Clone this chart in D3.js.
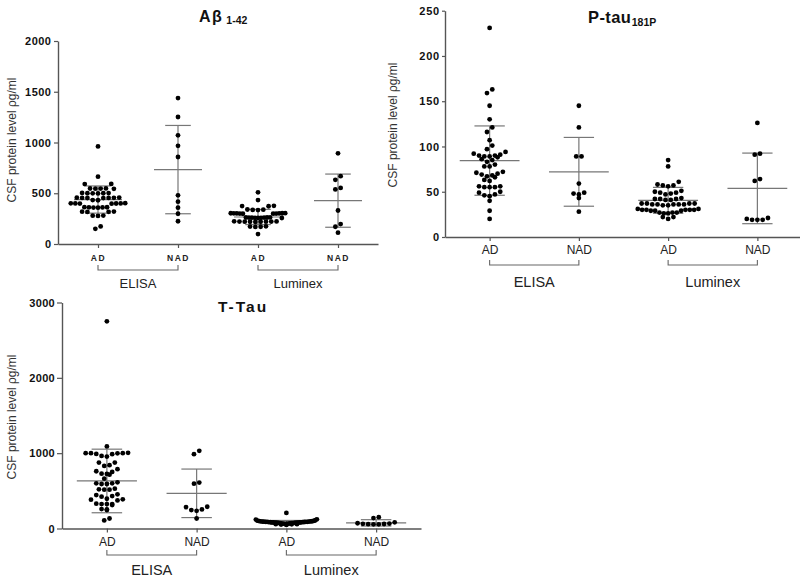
<!DOCTYPE html>
<html><head><meta charset="utf-8">
<script src="https://cdn.jsdelivr.net/npm/d3@7"></script>
<style>body{margin:0;background:#fff}svg{display:block}</style>
</head><body>
<svg id="chart" width="800" height="579"></svg>
<script>
// ---------------- data ----------------
const categories = ["AD", "NAD", "AD", "NAD"];
const groups = ["ELISA", "Luminex"];
const yLabel = "CSF protein level \u03c1g/ml";

// Aβ 1-42
const abetaTicks = [0, 500, 1000, 1500, 2000];
const abetaElisaAD = [961, 663, 592, 590, 548, 545, 546, 544, 547, 502, 500, 498, 501, 499, 503,
  456, 454, 455, 453, 457, 452, 454, 431, 433, 400, 398, 401, 399, 397, 402, 400,
  362, 360, 358, 361, 359, 363, 318, 316, 317, 319, 279, 277, 280, 173, 150];
const abetaElisaNAD = [1438, 1251, 1071, 967, 857, 480, 417, 358, 298, 224];
const abetaLuminexAD = [509, 433, 376, 374, 372, 340, 338, 336, 334,
  300, 303, 301, 299, 302, 304, 298, 300, 301, 303,
  258, 260, 261, 257, 259, 262, 256, 260, 258, 261,
  220, 222, 218, 221, 219, 223, 217, 220, 221, 172, 170, 174, 168, 98];
const abetaLuminexNAD = [893, 668, 632, 552, 538, 330, 196, 170, 112];
const abetaMeans = [438, 733, 266, 427];
const abetaSD = [134, 435, 75, 262];

// P-tau 181P
const ptauTicks = [0, 50, 100, 150, 200, 250];
const ptauElisaAD = [231, 163, 159, 145, 130, 121, 116, 107, 101, 97, 94, 92, 91, 90, 90,
  89, 89, 88, 86, 85, 83, 80, 78, 78, 72, 71, 70, 69, 68, 67, 66, 63, 62, 56, 56,
  55, 55, 55, 50, 49, 47, 46, 45, 40, 29, 20];
const ptauElisaNAD = [145, 121, 89, 89, 59, 49, 48, 47, 43, 28];
const ptauLuminexAD = [85, 78, 61, 58, 57, 57, 56, 51, 50, 49, 49, 48, 47, 43, 42, 42, 42, 41, 41,
  37, 37, 37, 37, 36, 36, 36, 36, 36, 35, 35, 31, 31, 30, 30, 30, 30, 30, 29, 29, 29,
  27, 27, 27, 26, 26, 22, 20, 22];
const ptauLuminexNAD = [126, 92, 91, 64, 62, 21, 19, 19, 19, 20];
const ptauMeans = [84.4, 72, 40.5, 53.7];
const ptauSD = [38.3, 38, 14.3, 39];

// T-Tau
const ttauTicks = [0, 1000, 2000, 3000];
const ttauElisaAD = [2750, 1089, 1005, 1000, 998, 1000, 1000, 990, 987, 964, 955, 875, 875, 840, 831,
  787, 760, 751, 728, 724, 715, 662, 613, 600, 600, 591, 591, 529, 520, 515, 515,
  453, 444, 431, 422, 395, 387, 382, 373, 329, 324, 324, 324, 311, 258, 253, 244, 133, 107];
const ttauElisaNAD = [1031, 987, 609, 595, 289, 284, 253, 244, 235, 133];
const ttauLuminexAD = [207, 122, 118, 110, 104, 100, 98, 96, 95, 94, 92, 92, 90, 89, 88, 88, 87, 86,
  85, 84, 83, 82, 81, 80, 80, 79, 78, 77, 76, 75, 74, 72, 71, 70, 68, 67, 66, 64, 62, 60,
  58, 57, 55, 52, 48];
const ttauLuminexNAD = [150, 138, 82, 70, 62, 58, 55, 56, 60, 66];
const ttauMeans = [631, 467, 82, 75];
const ttauSD = [422, 322, 25, 42];

// ---------------- drawing ----------------
const FONT = "'Liberation Sans', Arial, Helvetica, sans-serif";
const svg = d3.select("#chart");

function swarm(values, y, cx, maxHalf) {
  const dx = 5.3, binH = 4.8;
  const pts = values.map(v => ({ v, y: y(v) })).sort((a, b) => a.y - b.y);
  const bins = [];
  let cur = null;
  pts.forEach(p => {
    if (!cur || p.y - cur.start > binH) { cur = { start: p.y, items: [] }; bins.push(cur); }
    cur.items.push(p);
  });
  bins.forEach(b => {
    const n = b.items.length;
    let step = dx;
    if (n > 1 && (n - 1) * step / 2 > maxHalf) step = 2 * maxHalf / (n - 1);
    const sorted = b.items.slice().sort((a, c) => c.y - a.y);
    const slots = d3.range(n).map(i => (i - (n - 1) / 2) * step)
      .sort((a, c) => Math.abs(a) - Math.abs(c) || a - c);
    sorted.forEach((p, i) => { p.x = cx + slots[i]; });
  });
  return pts;
}

function panel(cfg) {
  const g = svg.append("g");
  const x = d3.scalePoint().domain(d3.range(categories.length)).range(cfg.xRange).padding(0.5);
  const y = d3.scaleLinear().domain([0, d3.max(cfg.ticks)]).range(cfg.yRange);
  const band = x.step();

  // y axis
  const ya = g.append("g").attr("transform", `translate(${cfg.xRange[0]},0)`)
    .call(d3.axisLeft(y).tickValues(cfg.ticks).tickFormat(d3.format("d"))
      .tickSize(cfg.yTick).tickPadding(cfg.yPad).tickSizeOuter(0));
  ya.select(".domain").attr("stroke", "#555").attr("stroke-width", 1.4);
  ya.selectAll(".tick line").attr("stroke", "#555").attr("stroke-width", 1.2);
  ya.selectAll(".tick text").attr("font-family", FONT).attr("font-weight", "bold")
    .attr("font-size", cfg.yFont).attr("letter-spacing", cfg.yLs).attr("fill", "#111");

  // x axis
  const xa = g.append("g").attr("transform", `translate(0,${cfg.yRange[0]})`)
    .call(d3.axisBottom(x).tickFormat(i => categories[i]).tickSize(4).tickPadding(cfg.xPad).tickSizeOuter(0));
  xa.select(".domain").attr("stroke", "#555").attr("stroke-width", 1.4);
  xa.selectAll(".tick line").attr("stroke", "#555").attr("stroke-width", 1.2);
  xa.selectAll(".tick text").attr("font-family", FONT).attr("font-weight", cfg.catBold ? "bold" : "normal")
    .attr("font-size", cfg.catFont).attr("letter-spacing", cfg.catLs).attr("fill", "#222");

  // brackets + group labels
  groups.forEach((gname, gi) => {
    const x1 = x(gi * 2), x2 = x(gi * 2 + 1);
    g.append("path")
      .attr("d", `M${x1},${cfg.brY - 5}V${cfg.brY}H${x2}V${cfg.brY - 5}`)
      .attr("fill", "none").attr("stroke", "#666").attr("stroke-width", 1.1);
    g.append("text").attr("x", (x1 + x2) / 2).attr("y", cfg.grY)
      .attr("text-anchor", "middle").attr("font-family", FONT).attr("font-size", cfg.grFont)
      .attr("fill", "#222").text(gname);
  });

  // mean ± SD
  cfg.series.forEach((vals, i) => {
    const cx = x(i), m = cfg.means[i], s = cfg.sds[i];
    const mh = band * cfg.meanFrac, ch = band * cfg.capFrac;
    const eg = g.append("g").attr("stroke", "#777").attr("stroke-width", 1.2);
    eg.append("line").attr("x1", cx).attr("x2", cx).attr("y1", y(m + s)).attr("y2", y(Math.max(0, m - s)));
    eg.append("line").attr("x1", cx - mh).attr("x2", cx + mh).attr("y1", y(m)).attr("y2", y(m));
    eg.append("line").attr("x1", cx - ch).attr("x2", cx + ch).attr("y1", y(m + s)).attr("y2", y(m + s));
    eg.append("line").attr("x1", cx - ch).attr("x2", cx + ch).attr("y1", y(Math.max(0, m - s))).attr("y2", y(Math.max(0, m - s)));
  });

  // dots
  cfg.series.forEach((vals, i) => {
    const pts = swarm(vals, y, x(i), band * 0.34);
    g.append("g").selectAll("circle").data(pts).join("circle")
      .attr("cx", d => d.x).attr("cy", d => d.y).attr("r", 2.4).attr("fill", "#000");
  });

  // y label
  g.append("text").attr("transform", `translate(${cfg.ylX},${cfg.ylY}) rotate(-90)`)
    .attr("text-anchor", "middle").attr("dominant-baseline", "central")
    .attr("font-family", FONT).attr("font-size", 12).attr("fill", "#333").text(yLabel);

  // title
  const t = g.append("text").attr("x", cfg.tX).attr("y", cfg.tY)
    .attr("font-family", FONT).attr("font-weight", "bold").attr("fill", "#111");
  t.append("tspan").attr("font-size", cfg.tFont).attr("letter-spacing", cfg.tLs).text(cfg.title);
  if (cfg.sub) t.append("tspan").attr("font-size", cfg.subFont).attr("dx", cfg.subDx).attr("dy", cfg.subDy).text(cfg.sub);
}

panel({
  series: [abetaElisaAD, abetaElisaNAD, abetaLuminexAD, abetaLuminexNAD],
  means: abetaMeans, sds: abetaSD, ticks: abetaTicks,
  xRange: [58, 378], yRange: [244, 41],
  yTick: 4, yPad: 2.5, yFont: 11, yLs: 0.5,
  xPad: 6.5, catFont: 8.5, catBold: true, catLs: 1.5,
  brY: 270, grY: 288, grFont: 13,
  meanFrac: 0.3, capFrac: 0.16,
  ylX: 12, ylY: 140,
  title: "A\u03b2", tX: 199, tY: 22, tFont: 16, tLs: 1.5, sub: "1-42", subFont: 10.5, subDx: 3, subDy: 2
});

panel({
  series: [ptauElisaAD, ptauElisaNAD, ptauLuminexAD, ptauLuminexNAD],
  means: ptauMeans, sds: ptauSD, ticks: ptauTicks,
  xRange: [445, 802], yRange: [237, 10.7],
  yTick: 3, yPad: 2, yFont: 11, yLs: 0.8,
  xPad: 4.8, catFont: 12, catBold: false, catLs: 0,
  brY: 265, grY: 287, grFont: 14.5,
  meanFrac: 0.335, capFrac: 0.17,
  ylX: 393, ylY: 125,
  title: "P-tau", tX: 588, tY: 22.5, tFont: 16.5, tLs: 0.4, sub: "181P", subFont: 10.5, subDx: 0.5, subDy: 3.7
});

panel({
  series: [ttauElisaAD, ttauElisaNAD, ttauLuminexAD, ttauLuminexNAD],
  means: ttauMeans, sds: ttauSD, ticks: ttauTicks,
  xRange: [62, 421], yRange: [528.5, 302.5],
  yTick: 5, yPad: 2, yFont: 11, yLs: 0.3,
  xPad: 5, catFont: 12, catBold: false, catLs: 0,
  brY: 555, grY: 575, grFont: 14.5,
  meanFrac: 0.335, capFrac: 0.17,
  ylX: 12, ylY: 417,
  title: "T-Tau", tX: 218, tY: 312, tFont: 15.5, tLs: 2
});
</script>
</body></html>
